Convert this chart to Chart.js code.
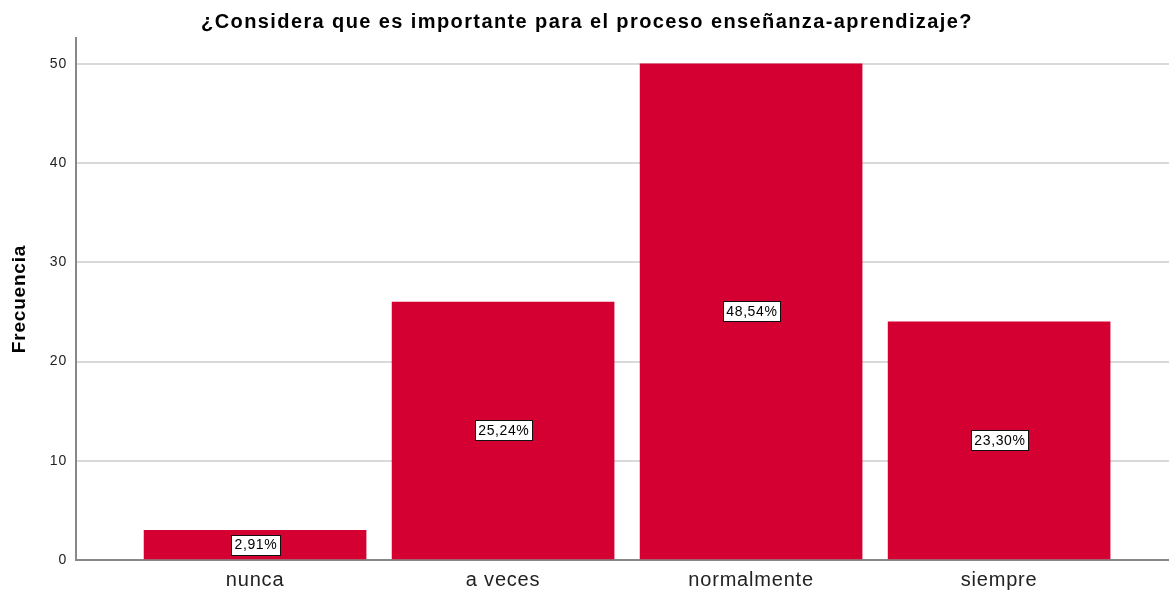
<!DOCTYPE html>
<html>
<head>
<meta charset="utf-8">
<script src="https://cdn.jsdelivr.net/npm/chart.js@4/dist/chart.umd.min.js"></script>
<style>
  html, body { margin: 0; padding: 0; background: #fff; }
  #wrap { width: 1169px; height: 592px; position: relative; }
</style>
</head>
<body>
<div id="wrap"><canvas id="chart"></canvas></div>
<script>
// ===== Data =====
const chartTitle = "¿Considera que es importante para el proceso enseñanza-aprendizaje?";
const categories = ["nunca", "a veces", "normalmente", "siempre"];
const frecuencias = [3, 26, 50, 24];
const porcentajes = ["2,91%", "25,24%", "48,54%", "23,30%"];
const yTicks = [0, 10, 20, 30, 40, 50];

const BAR_RED = "#d50032";
const FONT = "'Liberation Sans', Arial, sans-serif";

// SPSS-like text is a bit spaced out
const spacing = {
  id: "spacing",
  beforeDraw(chart) { chart.ctx.letterSpacing = "0.8px"; },
  afterDraw(chart) {
    // title drawn by hand so it can get its own spacing
    const { ctx } = chart;
    ctx.save();
    ctx.letterSpacing = "1.4px";
    ctx.font = "bold 20px " + FONT;
    ctx.fillStyle = "#000";
    ctx.textAlign = "center";
    ctx.textBaseline = "middle";
    ctx.fillText(chartTitle, 587, 22);
    ctx.restore();
    ctx.letterSpacing = "0px";
  },
};

// ===== Percent label boxes in the middle of each bar =====
const pctLabels = {
  id: "pctLabels",
  afterDatasetsDraw(chart) {
    const { ctx } = chart;
    const meta = chart.getDatasetMeta(0);
    ctx.save();
    ctx.letterSpacing = "0.6px";
    ctx.font = "14px " + FONT;
    ctx.textAlign = "center";
    ctx.textBaseline = "middle";
    meta.data.forEach((bar, i) => {
      const { x, y, base } = bar.getProps(["x", "y", "base"], true);
      const cy = (y + base) / 2;
      const txt = porcentajes[i];
      const w = Math.round(ctx.measureText(txt).width + 6);
      const h = 20;
      const left = Math.round(x - w / 2) + 0.5;
      const top = Math.round(cy - h / 2) + 0.5;
      ctx.fillStyle = "#fff";
      ctx.fillRect(left, top, w, h);
      ctx.strokeStyle = "#111";
      ctx.lineWidth = 1;
      ctx.strokeRect(left, top, w, h);
      ctx.fillStyle = "#000";
      ctx.fillText(txt, x + 0.8, cy + 1);
    });
    ctx.restore();
  },
};

new Chart(document.getElementById("chart"), {
  type: "bar",
  data: {
    datasets: [{
      data: frecuencias.map((v, i) => ({ x: i, y: v })),
      backgroundColor: BAR_RED,
      borderWidth: 0,
      barThickness: 222,
    }],
  },
  options: {
    responsive: true,
    maintainAspectRatio: false,
    animation: false,
    layout: { padding: { left: 0, right: 0, top: 38, bottom: 0 } },
    plugins: {
      legend: { display: false },
      tooltip: { enabled: false },
      title: { display: false },
    },
    scales: {
      x: {
        type: "linear",
        offset: false,
        min: -0.722,
        max: 3.685,
        afterBuildTicks: (s) => { s.ticks = categories.map((_, i) => ({ value: i })); },
        afterFit: (s) => { s.height = 32; },
        ticks: {
          color: "#222",
          font: { family: FONT, size: 20 },
          padding: 8,
          autoSkip: false,
          maxRotation: 0,
          callback: (v) => categories[v] ?? "",
        },
        grid: { display: false, drawTicks: false, offset: false },
        border: { display: true, color: "#888", width: 2 },
      },
      y: {
        min: 0,
        max: 52.6,
        afterBuildTicks: (s) => { s.ticks = yTicks.map((v) => ({ value: v })); },
        afterFit: (s) => { s.width = 76; },
        ticks: {
          color: "#222",
          font: { family: FONT, size: 14 },
          padding: 9,
        },
        grid: { color: "#d9d9d9", lineWidth: 2, drawTicks: false },
        border: { display: true, color: "#888", width: 2 },
        title: {
          display: true,
          text: "Frecuencia",
          color: "#000",
          font: { family: FONT, size: 19, weight: "bold" },
          padding: { top: 8, bottom: 0 },
        },
      },
    },
  },
  plugins: [spacing, pctLabels],
});
</script>
</body>
</html>
